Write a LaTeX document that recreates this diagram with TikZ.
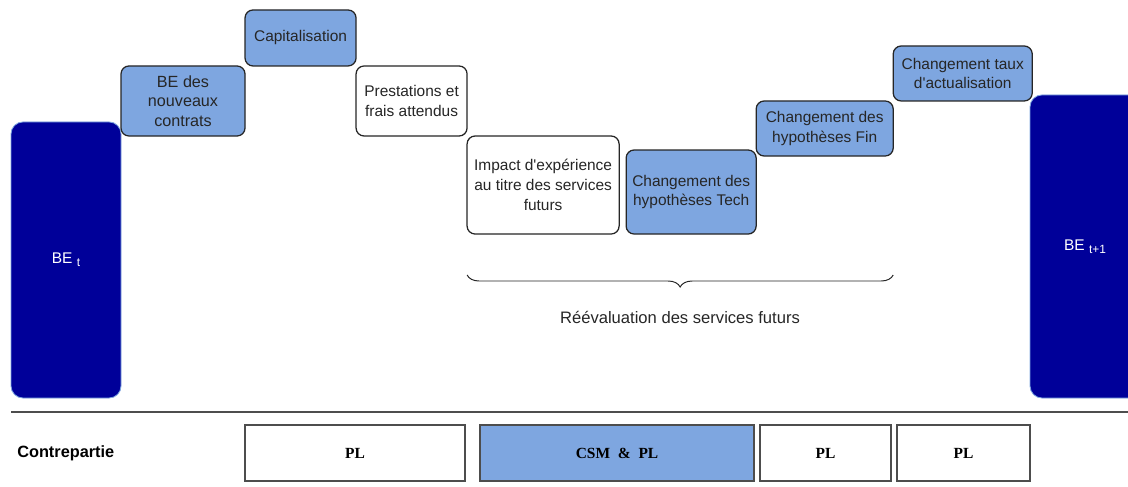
\documentclass[tikz,border=0pt]{standalone}
\usepackage{fontspec}
\setmainfont{Liberation Sans}
\newfontfamily\plfont{Liberation Serif}
\usepackage{xcolor}
\usepackage{tikz}
\usetikzlibrary{positioning,decorations.pathreplacing}
\definecolor{navy}{HTML}{000099}
\definecolor{navyedge}{HTML}{7EA6E0}
\definecolor{stepblue}{HTML}{7EA6E0}
\definecolor{ink}{HTML}{262626}
\definecolor{rulegray}{HTML}{4D4D4D}
\tikzset{
  stock/.style={rectangle, rounded corners=0.3cm, draw=navyedge, line width=0.6pt, fill=navy, text=white, inner sep=0pt, outer sep=0pt, font=\fontsize{11}{13}\selectfont},
  stepplain/.style={rectangle, rounded corners=0.2cm, draw=ink, line width=0.9pt, fill=white, text=ink, align=center, inner sep=0pt, outer sep=0pt, font=\fontsize{11}{14}\selectfont},
  stepfill/.style={stepplain, fill=stepblue},
  counter/.style={rectangle, draw=rulegray, line width=1.3pt, fill=white, text=black, inner sep=0pt, outer sep=0pt, minimum height=1.4cm, font=\plfont\bfseries\fontsize{11}{13}\selectfont},
  brace/.style={decorate, decoration={brace, amplitude=0.3cm}, draw=ink, line width=0.7pt},
  caption/.style={text=ink, inner sep=0pt, font=\fontsize{11.8}{14}\selectfont}
}
\newcommand{\lowidx}[1]{\raisebox{-0.35ex}{\fontsize{8.5}{9}\selectfont #1}}
\begin{document}
\begin{tikzpicture}[x=0.025cm, y=-0.025cm]
  \useasboundingbox (0,0) rectangle (1128,486);
  \node[stock, minimum width=2.75cm, minimum height=6.9cm, anchor=south west] (bet) at (11,398) {BE \lowidx{t}};
  \node[stepfill, minimum width=3.1cm, minimum height=1.75cm, anchor=south west, font=\fontsize{11.5}{14}\selectfont] (newbiz) at (121,136) {BE des\\nouveaux\\contrats};
  \node[stepfill, minimum width=2.775cm, minimum height=1.4cm, anchor=south west] (capi) at (newbiz.north east) {Capitalisation};
  \node[stepplain, minimum width=2.775cm, minimum height=1.75cm, anchor=north west] (prest) at (capi.south east) {Prestations et\\frais attendus};
  \node[stepplain, minimum width=3.8cm, minimum height=2.45cm, anchor=north west] (xp) at (prest.south east) {Impact d\textquotesingle expérience\\au titre des services\\futurs};
  \node[stepfill, minimum width=3.25cm, minimum height=2.1cm, anchor=south west, xshift=0.175cm] (tech) at (xp.south east) {Changement des\\hypothèses Tech};
  \node[stepfill, minimum width=3.425cm, minimum height=1.375cm, anchor=south west, yshift=-0.15cm] (fin) at (tech.north east) {Changement des\\hypothèses Fin};
  \node[stepfill, minimum width=3.475cm, minimum height=1.375cm, anchor=south west] (taux) at (fin.north east) {Changement taux\\d\textquotesingle actualisation};
  \node[stock, minimum width=2.75cm, minimum height=7.575cm, anchor=south west] (betnext) at (1030,398) {BE \lowidx{t+1}};
  \coordinate (braceleft) at (xp.south west |- 0,275);
  \coordinate (braceright) at (fin.south east |- 0,275);
  \draw[brace] (braceright) -- (braceleft);
  \node[caption] (reeval) at (680,317) {Réévaluation des services futurs};
  \coordinate (ruleleft) at (11,412);
  \coordinate (ruleright) at (1128,412);
  \draw[rulegray, line width=1.2pt] (ruleleft) -- (ruleright);
  \node[anchor=west, inner sep=0pt, font=\bfseries\fontsize{11.6}{14}\selectfont] (contre) at (17,453) {Contrepartie};
  \node[counter, minimum width=5.5cm, anchor=north west] (plcapi) at (245,425) {PL};
  \node[counter, fill=stepblue, minimum width=6.85cm, anchor=north west] (csm) at (480,425) {CSM~~\&~~PL};
  \node[counter, minimum width=3.275cm, anchor=north west] (plfin) at (760,425) {PL};
  \node[counter, minimum width=3.325cm, anchor=north west] (pltaux) at (897,425) {PL};
\end{tikzpicture}
\end{document}
